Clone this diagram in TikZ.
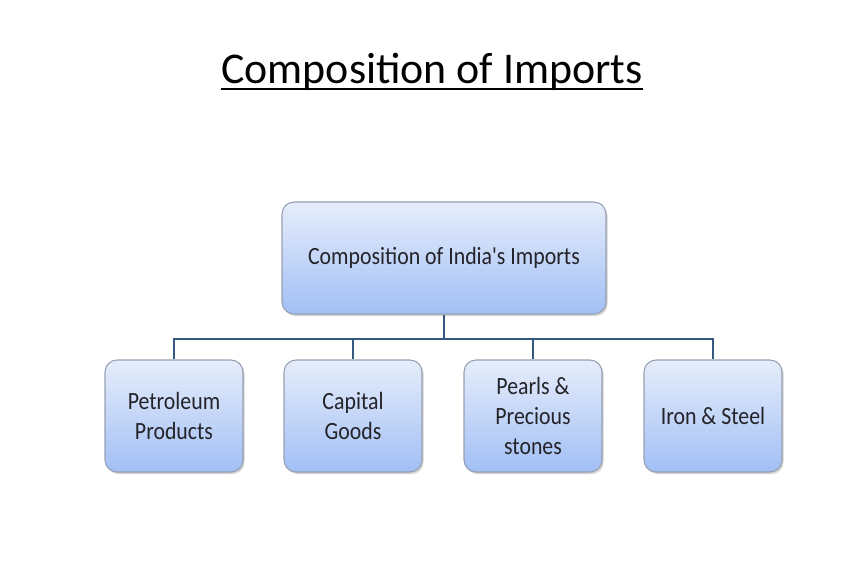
\documentclass[tikz,border=0pt]{standalone}
\usepackage{fontspec}
\setmainfont{Carlito}
\newfontfamily\boxfont[FakeStretch=0.88]{Carlito}
\usepackage{tikz}
\usetikzlibrary{shadows}
\definecolor{boxtop}{RGB}{230,237,251}
\definecolor{boxbot}{RGB}{162,191,245}
\definecolor{boxedge}{RGB}{150,160,178}
\definecolor{conn}{RGB}{52,88,128}
\definecolor{txt}{RGB}{35,35,40}

\begin{document}
\begin{tikzpicture}[x=0.75pt,y=-0.75pt,
  tbox/.style={draw=boxedge,line width=0.8pt,rounded corners=9pt,
    top color=boxtop,bottom color=boxbot,
    drop shadow={shadow xshift=1.2pt,shadow yshift=-1.5pt,opacity=0.35},
    align=center,text=txt,font=\boxfont\fontsize{18.6pt}{22.5pt}\selectfont,
    inner sep=0pt},
  conn/.style={draw=conn,line width=2.2pt}]
  \useasboundingbox (0,0) rectangle (864,576);
  % title
  \node[inner sep=0pt,anchor=base,font=\fontsize{32.9pt}{38pt}\selectfont] (title) at (432,83) {Composition of Imports};
  \draw[line width=2.2pt] (title.base west) ++(0,6) coordinate (ul) -- (ul -| title.base east);
  % boxes
  \node[tbox,minimum width=243pt,minimum height=84pt] (top) at (444,258) {Composition of India's Imports};
  \node[tbox,minimum width=103.5pt,minimum height=84pt] (petro) at (174,416) {Petroleum\\Products};
  \node[tbox,minimum width=103.5pt,minimum height=84pt] (cap) at (353,416) {Capital\\Goods};
  \node[tbox,minimum width=103.5pt,minimum height=84pt] (pearl) at (533,416) {Pearls \&\\Precious\\stones};
  \node[tbox,minimum width=103.5pt,minimum height=84pt] (iron) at (713,416) {Iron \& Steel};
  % connectors
  \coordinate (bar) at (0,339);
  \draw[conn] (top.south) -- (top.south |- bar);
  \draw[conn] (petro.north) -- (petro.north |- bar) -- (iron.north |- bar) -- (iron.north);
  \draw[conn] (cap.north) -- (cap.north |- bar);
  \draw[conn] (pearl.north) -- (pearl.north |- bar);
\end{tikzpicture}
\end{document}
